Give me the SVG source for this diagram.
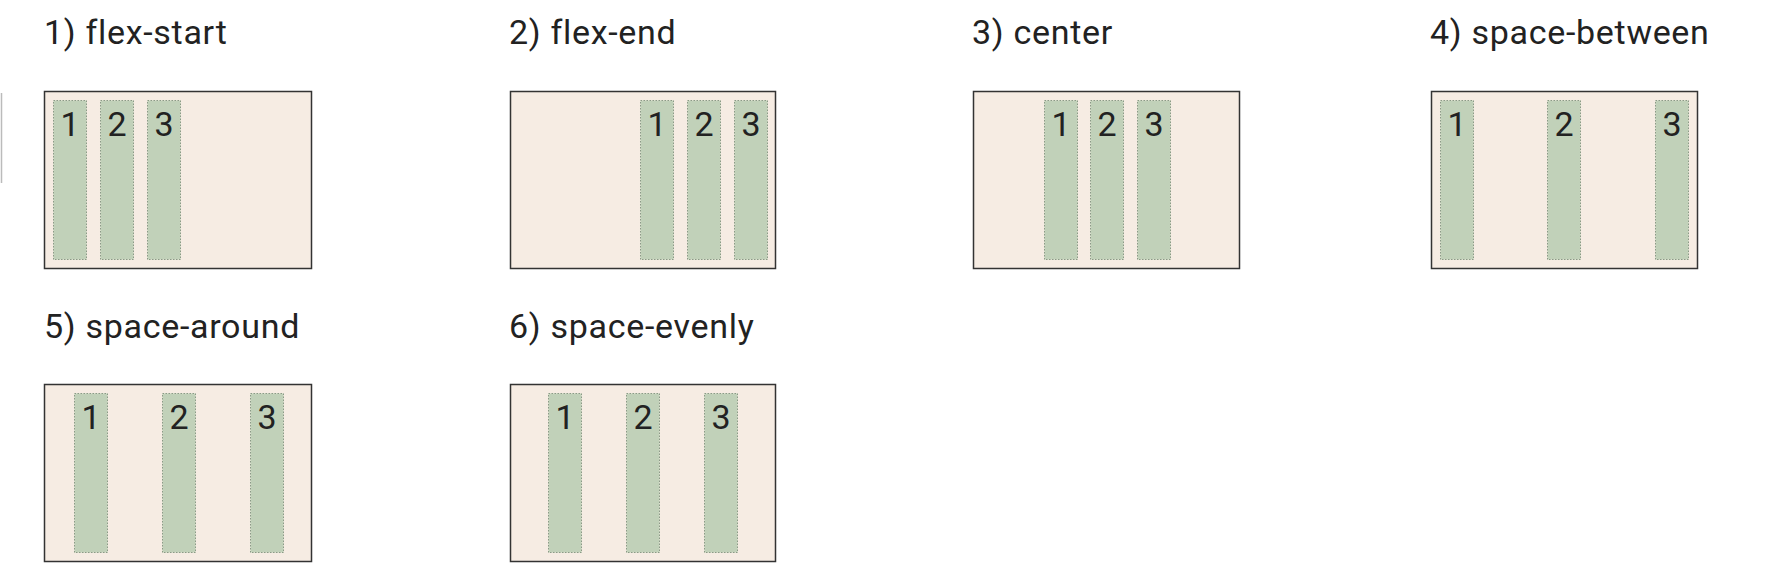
<svg xmlns="http://www.w3.org/2000/svg" width="1792" height="564" viewBox="0 0 1792 564">
<style>
.title{font-family:Roboto,"Liberation Sans",sans-serif;font-size:34px;letter-spacing:0.7px;fill:#222}
.box{fill:#f6ece3;stroke:#333;stroke-width:1.5}
.item{fill:#c1d1b9;stroke:#8a9a86;stroke-width:1;stroke-dasharray:1.5 1.5}
.num{font-family:Roboto,"Liberation Sans",sans-serif;font-size:34px;fill:#222;text-anchor:middle}
</style>
<rect width="1792" height="564" fill="#ffffff"/>
<line x1="1.5" y1="93" x2="1.5" y2="183" stroke="#bbbbbb" stroke-width="1.5"/>

<g id="flex-start">
<text class="title" x="44" y="44">1) flex-start</text>
<rect class="box" x="44.5" y="91.5" width="267" height="177"/>
<rect class="item" x="53.5" y="100.5" width="33" height="159"/><text class="num" x="70" y="136">1</text>
<rect class="item" x="100.5" y="100.5" width="33" height="159"/><text class="num" x="117" y="136">2</text>
<rect class="item" x="147.5" y="100.5" width="33" height="159"/><text class="num" x="164" y="136">3</text>
</g>

<g id="flex-end">
<text class="title" x="509" y="44">2) flex-end</text>
<rect class="box" x="510.5" y="91.5" width="265" height="177"/>
<rect class="item" x="640.5" y="100.5" width="33" height="159"/><text class="num" x="657" y="136">1</text>
<rect class="item" x="687.5" y="100.5" width="33" height="159"/><text class="num" x="704" y="136">2</text>
<rect class="item" x="734.5" y="100.5" width="33" height="159"/><text class="num" x="751" y="136">3</text>
</g>

<g id="center">
<text class="title" x="972" y="44">3) center</text>
<rect class="box" x="973.5" y="91.5" width="266" height="177"/>
<rect class="item" x="1044.5" y="100.5" width="33" height="159"/><text class="num" x="1061" y="136">1</text>
<rect class="item" x="1090.5" y="100.5" width="33" height="159"/><text class="num" x="1107" y="136">2</text>
<rect class="item" x="1137.5" y="100.5" width="33" height="159"/><text class="num" x="1154" y="136">3</text>
</g>

<g id="space-between">
<text class="title" x="1430" y="44">4) space-between</text>
<rect class="box" x="1431.5" y="91.5" width="266" height="177"/>
<rect class="item" x="1440.5" y="100.5" width="33" height="159"/><text class="num" x="1457" y="136">1</text>
<rect class="item" x="1547.5" y="100.5" width="33" height="159"/><text class="num" x="1564" y="136">2</text>
<rect class="item" x="1655.5" y="100.5" width="33" height="159"/><text class="num" x="1672" y="136">3</text>
</g>

<g id="space-around">
<text class="title" x="44" y="338">5) space-around</text>
<rect class="box" x="44.5" y="384.5" width="267" height="177"/>
<rect class="item" x="74.5" y="393.5" width="33" height="159"/><text class="num" x="91" y="429">1</text>
<rect class="item" x="162.5" y="393.5" width="33" height="159"/><text class="num" x="179" y="429">2</text>
<rect class="item" x="250.5" y="393.5" width="33" height="159"/><text class="num" x="267" y="429">3</text>
</g>

<g id="space-evenly">
<text class="title" x="509" y="338">6) space-evenly</text>
<rect class="box" x="510.5" y="384.5" width="265" height="177"/>
<rect class="item" x="548.5" y="393.5" width="33" height="159"/><text class="num" x="565" y="429">1</text>
<rect class="item" x="626.5" y="393.5" width="33" height="159"/><text class="num" x="643" y="429">2</text>
<rect class="item" x="704.5" y="393.5" width="33" height="159"/><text class="num" x="721" y="429">3</text>
</g>

<g id="connectors"></g>
</svg>
